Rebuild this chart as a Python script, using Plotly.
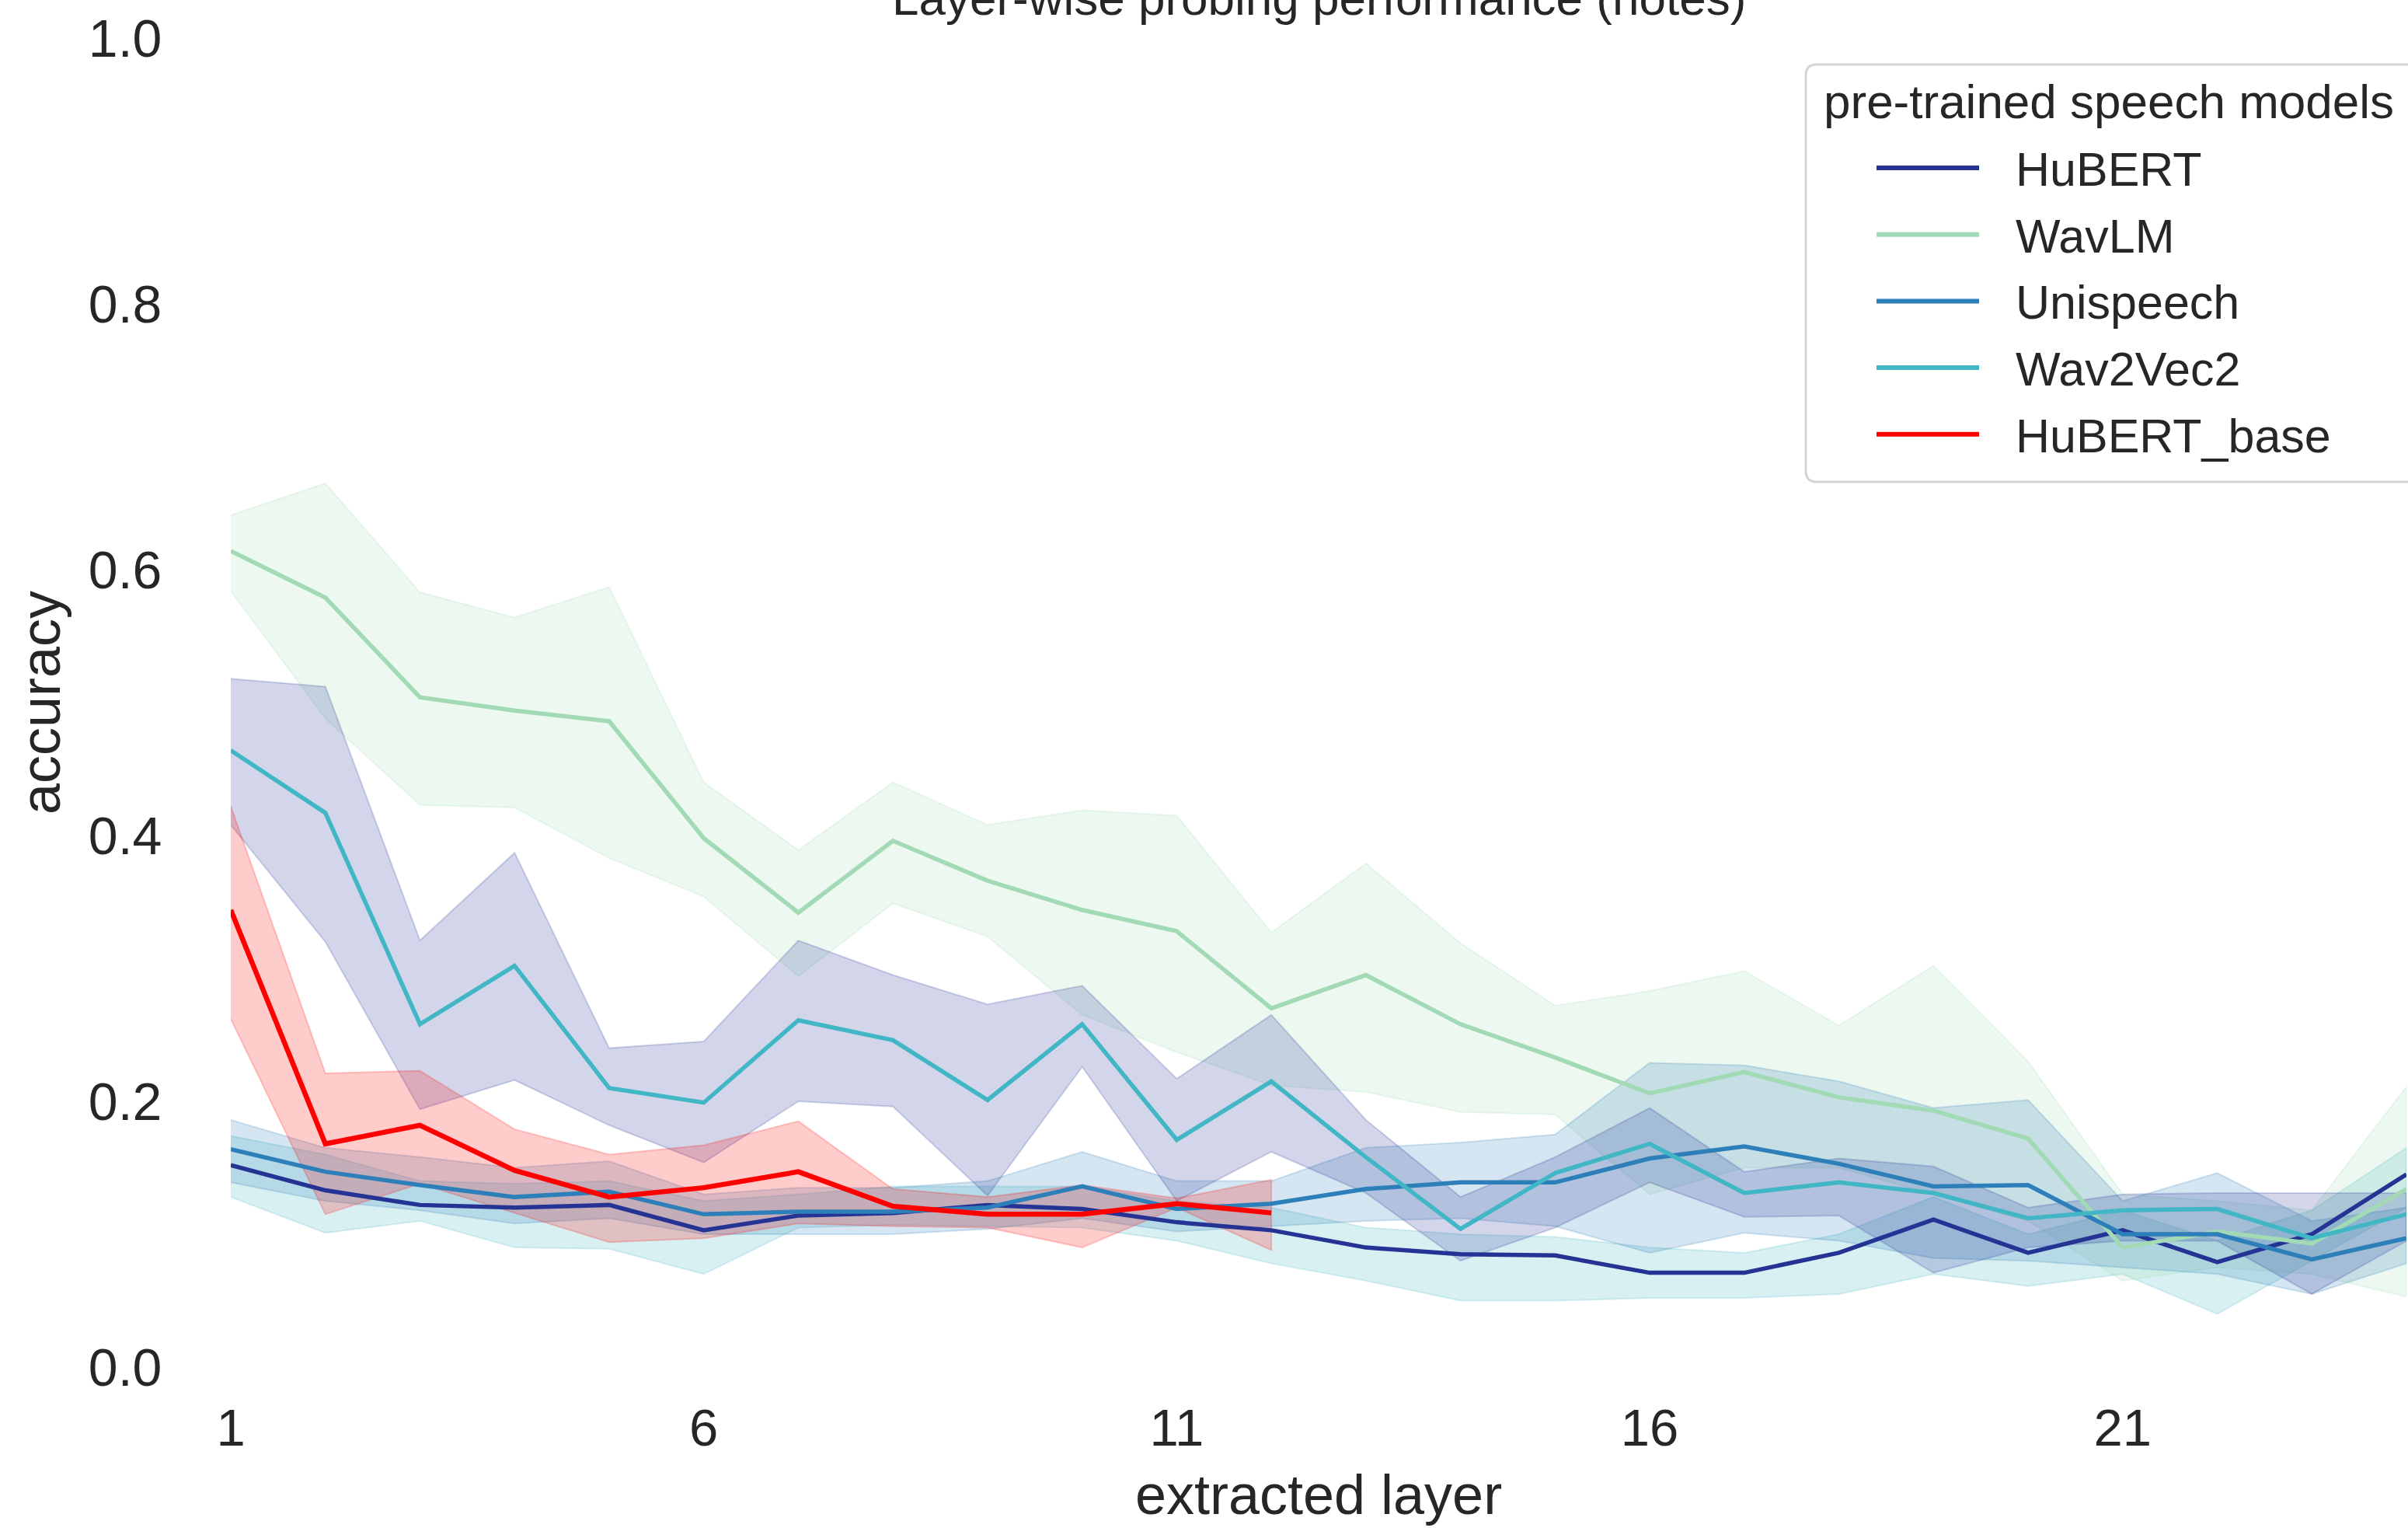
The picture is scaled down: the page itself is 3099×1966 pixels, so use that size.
import plotly.graph_objects as go

# ---------------- data ----------------
layers = list(range(1, 25))
layers_base = list(range(1, 13))

model_names = ["HuBERT", "WavLM", "Unispeech", "Wav2Vec2", "HuBERT_base"]

hubert_mean = [0.152, 0.133, 0.122, 0.120, 0.122, 0.103, 0.114, 0.116, 0.122, 0.119, 0.109, 0.103,
               0.090, 0.085, 0.084, 0.071, 0.071, 0.086, 0.111, 0.086, 0.103, 0.079, 0.100, 0.145]
hubert_lo = [0.128, 0.101, 0.110, 0.090, 0.089, 0.070, 0.105, 0.107, 0.106, 0.105, 0.095, 0.078,
             0.065, 0.050, 0.050, 0.052, 0.052, 0.055, 0.070, 0.061, 0.070, 0.040, 0.080, 0.120]
hubert_hi = [0.174, 0.160, 0.140, 0.138, 0.140, 0.125, 0.130, 0.136, 0.136, 0.136, 0.125, 0.120,
             0.105, 0.100, 0.098, 0.090, 0.086, 0.100, 0.128, 0.100, 0.118, 0.095, 0.118, 0.165]

wavlm_mean = [0.614, 0.579, 0.504, 0.494, 0.486, 0.398, 0.342, 0.396, 0.366, 0.344, 0.328, 0.270,
              0.295, 0.258, 0.233, 0.206, 0.222, 0.203, 0.193, 0.172, 0.090, 0.102, 0.093, 0.134]
wavlm_lo = [0.584, 0.488, 0.423, 0.421, 0.383, 0.354, 0.294, 0.349, 0.324, 0.265, 0.237, 0.212,
            0.207, 0.192, 0.190, 0.130, 0.150, 0.150, 0.130, 0.110, 0.065, 0.075, 0.070, 0.053]
wavlm_hi = [0.641, 0.665, 0.583, 0.564, 0.587, 0.440, 0.389, 0.440, 0.408, 0.419, 0.415, 0.327,
            0.379, 0.319, 0.272, 0.283, 0.298, 0.257, 0.302, 0.230, 0.130, 0.125, 0.118, 0.211]

unispeech_mean = [0.164, 0.147, 0.137, 0.128, 0.132, 0.115, 0.117, 0.117, 0.120, 0.136, 0.119, 0.123,
                  0.134, 0.139, 0.139, 0.157, 0.166, 0.153, 0.136, 0.137, 0.100, 0.100, 0.081, 0.097]
unispeech_lo = [0.139, 0.125, 0.118, 0.108, 0.112, 0.100, 0.100, 0.100, 0.104, 0.112, 0.102, 0.106,
                0.110, 0.112, 0.106, 0.086, 0.101, 0.095, 0.082, 0.080, 0.075, 0.070, 0.055, 0.078]
unispeech_hi = [0.186, 0.165, 0.158, 0.150, 0.155, 0.130, 0.135, 0.135, 0.140, 0.162, 0.140, 0.140,
                0.165, 0.169, 0.175, 0.229, 0.227, 0.215, 0.195, 0.201, 0.125, 0.146, 0.110, 0.120]

wav2vec2_mean = [0.464, 0.417, 0.258, 0.302, 0.210, 0.199, 0.261, 0.246, 0.201, 0.258, 0.171, 0.215,
                 0.158, 0.104, 0.146, 0.168, 0.131, 0.139, 0.131, 0.112, 0.118, 0.119, 0.097, 0.115]
wav2vec2_lo = [0.408, 0.320, 0.194, 0.216, 0.182, 0.154, 0.200, 0.196, 0.129, 0.226, 0.125, 0.162,
               0.131, 0.080, 0.105, 0.139, 0.113, 0.114, 0.071, 0.090, 0.095, 0.095, 0.055, 0.095]
wav2vec2_hi = [0.518, 0.512, 0.321, 0.387, 0.240, 0.245, 0.321, 0.295, 0.273, 0.287, 0.217, 0.265,
               0.186, 0.128, 0.158, 0.195, 0.147, 0.157, 0.151, 0.120, 0.130, 0.131, 0.131, 0.131]

hubert_base_mean = [0.344, 0.168, 0.182, 0.148, 0.128, 0.135, 0.147, 0.121, 0.115, 0.115, 0.123, 0.116]
hubert_base_lo = [0.262, 0.115, 0.138, 0.116, 0.094, 0.097, 0.108, 0.106, 0.105, 0.090, 0.120, 0.088]
hubert_base_hi = [0.422, 0.221, 0.223, 0.179, 0.160, 0.167, 0.185, 0.134, 0.128, 0.137, 0.127, 0.141]

x_tick_vals = [1, 6, 11, 16, 21]
y_tick_vals = [0.0, 0.2, 0.4, 0.6, 0.8, 1.0]

# ---------------- styling ----------------
C_NAVY = "#253494"
C_GREEN = "#a1dab4"
C_BLUE = "#2c7fb8"
C_CYAN = "#41b6c4"
C_RED = "#ff0000"
TEXT = "#262626"
FONT = "Liberation Sans, Arial, Helvetica, sans-serif"

W, H = 3099, 1966
L_M, R_M, T_M, B_M = 297, 2, 49, 207
PW, PH = W - L_M - R_M, H - T_M - B_M


def rgba(hx, a):
    hx = hx.lstrip("#")
    r, g, b = int(hx[0:2], 16), int(hx[2:4], 16), int(hx[4:6], 16)
    return f"rgba({r},{g},{b},{a})"


def xp(px):
    return (px - L_M) / PW


def yp(py):
    return (H - B_M - py) / PH


fig = go.Figure()

# confidence bands (drawn below lines, as in matplotlib)
bands = [
    (layers, hubert_lo, hubert_hi, C_CYAN),
    (layers, wavlm_lo, wavlm_hi, C_GREEN),
    (layers, unispeech_lo, unispeech_hi, C_BLUE),
    (layers, wav2vec2_lo, wav2vec2_hi, C_NAVY),
    (layers_base, hubert_base_lo, hubert_base_hi, C_RED),
]
for xs, lo, hi, col in bands:
    fig.add_trace(go.Scatter(
        x=list(xs) + list(xs)[::-1],
        y=list(hi) + list(lo)[::-1],
        fill="toself", fillcolor=rgba(col, 0.2),
        line=dict(color=rgba(col, 0.2), width=2),
        mode="lines", hoverinfo="skip", showlegend=False))

lines = [
    (layers, hubert_mean, C_NAVY, 5.5, model_names[0]),
    (layers, wavlm_mean, C_GREEN, 5.5, model_names[1]),
    (layers, unispeech_mean, C_BLUE, 5.5, model_names[2]),
    (layers, wav2vec2_mean, C_CYAN, 5.5, model_names[3]),
    (layers_base, hubert_base_mean, C_RED, 6.5, model_names[4]),
]
for xs, ys, col, w, name in lines:
    fig.add_trace(go.Scatter(x=xs, y=ys, mode="lines", name=name,
                             line=dict(color=col, width=w), showlegend=False))

fig.update_layout(
    width=W, height=H,
    margin=dict(l=L_M, r=R_M, t=T_M, b=B_M, pad=0),
    plot_bgcolor="white", paper_bgcolor="white",
    font=dict(family=FONT, color=TEXT),
    showlegend=False,
)
fig.update_xaxes(
    range=[1, 24], tickvals=x_tick_vals, ticktext=[str(v) for v in x_tick_vals],
    showgrid=False, zeroline=False, showline=False,
    ticks="outside", ticklen=20, tickcolor="rgba(0,0,0,0)",
    tickfont=dict(size=67, color=TEXT),
    title=dict(text="extracted layer", font=dict(size=72, color=TEXT), standoff=24),
)
fig.update_yaxes(
    range=[0, 1], tickvals=y_tick_vals, tickformat=".1f",
    showgrid=False, zeroline=False, showline=False,
    ticks="outside", ticklen=74, tickcolor="rgba(0,0,0,0)",
    tickfont=dict(size=68, color=TEXT),
    title=dict(text="accuracy", font=dict(size=72, color=TEXT), standoff=12),
)

# title (partly cut off at the top, as in the reference)
fig.add_annotation(text="Layer-wise probing performance (notes)",
                   xref="paper", yref="paper", x=0.5, y=yp(-2),
                   xanchor="center", yanchor="middle", showarrow=False,
                   font=dict(size=62, color=TEXT, family=FONT))

# legend box (matplotlib-style, rounded)
bx0, bx1, by0, by1, rr = 2324, 3130, 83, 620, 14
path = (f"M {xp(bx0 + rr)},{yp(by0)} L {xp(bx1 - rr)},{yp(by0)} "
        f"Q {xp(bx1)},{yp(by0)} {xp(bx1)},{yp(by0 + rr)} "
        f"L {xp(bx1)},{yp(by1 - rr)} Q {xp(bx1)},{yp(by1)} {xp(bx1 - rr)},{yp(by1)} "
        f"L {xp(bx0 + rr)},{yp(by1)} Q {xp(bx0)},{yp(by1)} {xp(bx0)},{yp(by1 - rr)} "
        f"L {xp(bx0)},{yp(by0 + rr)} Q {xp(bx0)},{yp(by0)} {xp(bx0 + rr)},{yp(by0)} Z")
fig.add_shape(type="path", path=path, xref="paper", yref="paper",
              fillcolor="rgba(255,255,255,0.8)", line=dict(color="#d4d4d4", width=3),
              layer="above")

fig.add_annotation(text="pre-trained speech models", xref="paper", yref="paper",
                   x=xp(2345), y=yp(130), xanchor="left", yanchor="middle",
                   showarrow=False, font=dict(size=62, color=TEXT, family=FONT))

legend_cols = [C_NAVY, C_GREEN, C_BLUE, C_CYAN, C_RED]
for i, (name, col) in enumerate(zip(model_names, legend_cols)):
    ly = 216 + i * 85.7
    fig.add_shape(type="line", xref="paper", yref="paper",
                  x0=xp(2415), x1=xp(2547), y0=yp(ly), y1=yp(ly),
                  line=dict(color=col, width=6), layer="above")
    fig.add_annotation(text=name, xref="paper", yref="paper",
                       x=xp(2592), y=yp(ly + 2), xanchor="left", yanchor="middle",
                       showarrow=False, font=dict(size=61, color=TEXT, family=FONT))

# remove the browser's default 8px body margin so the figure sits at (0, 0)
fig.write_html("out.html", config={"displayModeBar": False},
               post_script="document.body.style.margin='0px';")
